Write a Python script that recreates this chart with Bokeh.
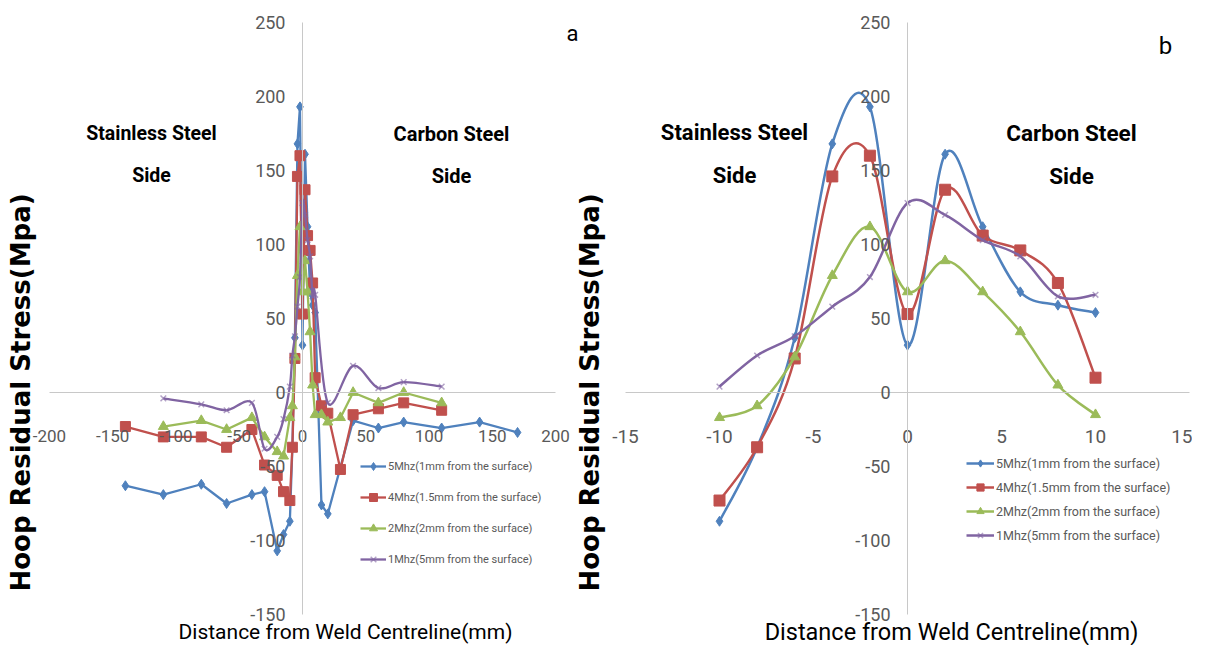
import math
from bokeh.plotting import figure
from bokeh.models import (Range1d, LinearAxis, FixedTicker, Label, Legend, LegendItem,
                          ColumnDataSource)
from bokeh.embed import file_html
from bokeh.resources import INLINE

# ---------------- data ----------------
series_names = ["5Mhz(1mm from the surface)", "4Mhz(1.5mm from the surface)",
                "2Mhz(2mm from the surface)", "1Mhz(5mm from the surface)"]

# panel a (full scan)
xa_blue = [-140, -110, -80, -60, -40, -30, -20, -15, -10, -8, -6, -4, -2, 0, 2, 4, 6, 8, 10, 15, 20, 40, 60, 80, 110, 140, 170]
ya_blue = [-63, -69, -62, -75, -69, -67, -107, -96, -87, -37, 37, 168, 193, 32, 161, 112, 68, 59, 54, -76, -82, -19, -24, -20, -24, -20, -27]

xa_red = [-140, -110, -80, -60, -40, -30, -20, -15, -10, -8, -6, -4, -2, 0, 2, 4, 6, 8, 10, 15, 20, 30, 40, 60, 80, 110]
ya_red = [-23, -30, -30, -37, -25, -49, -56, -67, -73, -37, 23, 146, 160, 53, 137, 106, 96, 74, 10, -9, -14, -52, -15, -11, -7, -12]

xa_green = [-110, -80, -60, -40, -30, -20, -15, -10, -8, -6, -4, -2, 0, 2, 4, 6, 8, 10, 15, 20, 30, 40, 60, 80, 110]
ya_green = [-23, -19, -25, -17, -30, -40, -43, -17, -9, 24, 79, 112, 68, 89, 68, 41, 5, -15, -15, -20, -17, 0, -7, 0, -7]

xa_purple = [-110, -80, -60, -40, -30, -20, -15, -10, -8, -6, -4, -2, 0, 2, 4, 6, 8, 10, 20, 40, 60, 80, 110]
ya_purple = [-4, -8, -12, -7, -38, -30, -18, 4, 25, 38, 58, 78, 128, 120, 103, 92, 65, 66, -7, 18, 3, 7, 4]

# panel b (near the weld)
xb = [-10, -8, -6, -4, -2, 0, 2, 4, 6, 8, 10]
yb_blue = [-87, -37, 37, 168, 193, 32, 161, 112, 68, 59, 54]
yb_red = [-73, -37, 23, 146, 160, 53, 137, 106, 96, 74, 10]
yb_green = [-17, -9, 24, 79, 112, 68, 89, 68, 41, 5, -15]
yb_purple = [4, 25, 38, 58, 78, 128, 120, 103, 92, 65, 66]

xa_ticks = [-200, -150, -100, -50, 0, 50, 100, 150, 200]
xb_ticks = [-15, -10, -5, 0, 5, 10, 15]
y_ticks = [-150, -100, -50, 0, 50, 100, 150, 200, 250]

# ---------------- style ----------------
COLORS = ["#4F81BD", "#C0504D", "#9BBB59", "#8064A2"]
MARKERS = ["diamond", "square", "triangle", "x"]
FONT = "Roboto"
GREY = "#595959"

W, H = 1192, 645
A_X0, A_SC = 302.0, 1.265      # panel a: x=0 at 302px, px per unit
B_X0, B_SC = 907.0, 18.8       # panel b
Y0, Y_SC = 392.0, 1.48          # shared y: y=0 at 392px from top

p = figure(width=W, height=H, output_backend="svg", toolbar_location=None,
           x_axis_type=None, y_axis_type=None, min_border=0,
           x_range=Range1d(-A_X0 / A_SC, (W - A_X0) / A_SC),
           y_range=Range1d(-(H - Y0) / Y_SC, Y0 / Y_SC))
p.extra_x_ranges = {"b": Range1d(-B_X0 / B_SC, (W - B_X0) / B_SC)}
p.outline_line_color = None
p.background_fill_color = "white"
p.border_fill_color = "white"


def style_axis(ax, ticks, size, standoff):
    ax.ticker = FixedTicker(ticks=ticks)
    ax.major_label_overrides = {t: str(t) for t in ticks}
    ax.axis_line_color = "#C8C8C8"
    ax.axis_line_width = 1
    ax.major_tick_in = 0
    ax.major_tick_out = 0
    ax.minor_tick_in = 0
    ax.minor_tick_out = 0
    ax.major_label_text_font = FONT
    ax.major_label_text_font_size = size
    ax.major_label_text_color = GREY
    ax.major_label_standoff = standoff


# panel a axes
ax_a = LinearAxis(fixed_location=0, bounds=(-200, 200))
style_axis(ax_a, xa_ticks, "17px", 37)
p.add_layout(ax_a, "below")
ay_a = LinearAxis(fixed_location=0, bounds=(-150, 250))
style_axis(ay_a, y_ticks, "18px", 17)
p.add_layout(ay_a, "left")

# panel b axes
ax_b = LinearAxis(x_range_name="b", fixed_location=0, bounds=(-15, 15))
style_axis(ax_b, xb_ticks, "19px", 37)
p.add_layout(ax_b, "below")
ay_b = LinearAxis(x_range_name="b", fixed_location=0, bounds=(-150, 250))
style_axis(ay_b, y_ticks, "18px", 17)
p.add_layout(ay_b, "left")


def bezier_source(xs, ys):
    n = len(xs)
    d = dict(x0=[], y0=[], x1=[], y1=[], cx0=[], cy0=[], cx1=[], cy1=[])
    for i in range(n - 1):
        xm, ym = (xs[i - 1], ys[i - 1]) if i > 0 else (xs[i], ys[i])
        xp, yp = (xs[i + 2], ys[i + 2]) if i + 2 < n else (xs[i + 1], ys[i + 1])
        d["x0"].append(xs[i]); d["y0"].append(ys[i])
        d["x1"].append(xs[i + 1]); d["y1"].append(ys[i + 1])
        d["cx0"].append(xs[i] + (xs[i + 1] - xm) / 6.0)
        d["cy0"].append(ys[i] + (ys[i + 1] - ym) / 6.0)
        d["cx1"].append(xs[i + 1] - (xp - xs[i]) / 6.0)
        d["cy1"].append(ys[i + 1] - (yp - ys[i]) / 6.0)
    return ColumnDataSource(d)


def add_series(xs, ys, k, smooth, range_name, lw, msize):
    color = COLORS[k]
    kw = {} if range_name is None else {"x_range_name": range_name}
    if smooth:
        lr = p.bezier(x0="x0", y0="y0", x1="x1", y1="y1", cx0="cx0", cy0="cy0",
                      cx1="cx1", cy1="cy1", source=bezier_source(xs, ys),
                      line_color=color, line_width=lw, **kw)
    else:
        lr = p.line(xs, ys, line_color=color, line_width=lw, **kw)
    if MARKERS[k] == "x":
        mr = p.scatter(xs, ys, marker="x", size=msize - 1, line_color=color,
                       line_width=1.5, line_alpha=0.6, **kw)
    else:
        mr = p.scatter(xs, ys, marker=MARKERS[k], size=msize, fill_color=color,
                       line_color=color, **kw)
    return LegendItem(label=series_names[k], renderers=[lr, mr])


items_a = [
    add_series(xa_blue, ya_blue, 0, False, None, 2.3, 10),
    add_series(xa_red, ya_red, 1, False, None, 2.3, 10),
    add_series(xa_green, ya_green, 2, False, None, 2.3, 10),
    add_series(xa_purple, ya_purple, 3, True, None, 2.3, 9),
]
items_b = [
    add_series(xb, yb_blue, 0, True, "b", 2.5, 10),
    add_series(xb, yb_red, 1, True, "b", 2.5, 11),
    add_series(xb, yb_green, 2, True, "b", 2.5, 10),
    add_series(xb, yb_purple, 3, True, "b", 2.5, 9),
]


def make_legend(items, loc, font_size, gh, spacing, gw):
    lg = Legend(items=items, location=loc, padding=0, margin=0, spacing=spacing,
                glyph_height=gh, label_height=gh, glyph_width=gw, label_standoff=2,
                border_line_color=None, background_fill_alpha=0,
                label_text_font=FONT, label_text_font_size=font_size,
                label_text_color=GREY)
    p.add_layout(lg, "center")


make_legend(items_a, (360, 76), "11px", 20, 11, 26)
make_legend(items_b, (966, 101), "12.5px", 18, 6, 28)


def add_text(text, x, y, size, bold=False, font=FONT, angle=0.0, color="black"):
    p.add_layout(Label(x=x, y=y, x_units="screen", y_units="screen", text=text,
                       text_font=font, text_font_size=size,
                       text_font_style="bold" if bold else "normal",
                       text_align="center", text_baseline="middle",
                       angle=angle, text_color=color))


ytitle = "Hoop Residual Stress(Mpa)"
xtitle = "Distance from Weld Centreline(mm)"
add_text(ytitle, 20, 253, "26px", bold=True, font="DejaVu Sans", angle=math.pi / 2)
add_text(ytitle, 589, 253, "26px", bold=True, font="DejaVu Sans", angle=math.pi / 2)
add_text(xtitle, 345, 14, "21px")
add_text(xtitle, 951, 14, "23.5px")
add_text("a", 572, 612, "22px")
add_text("b", 1165, 600, "24px")
add_text("Stainless Steel", 151, 512, "19.5px", bold=True)
add_text("Side", 151, 470, "19.5px", bold=True)
add_text("Carbon Steel", 451, 512, "20px", bold=True)
add_text("Side", 451, 470, "20px", bold=True)
add_text("Stainless Steel", 734, 513, "22px", bold=True)
add_text("Side", 734, 470, "22px", bold=True)
add_text("Carbon Steel", 1071, 513, "22.5px", bold=True)
add_text("Side", 1071, 470, "22.5px", bold=True)

open("out.html", "w").write(file_html(p, INLINE))
